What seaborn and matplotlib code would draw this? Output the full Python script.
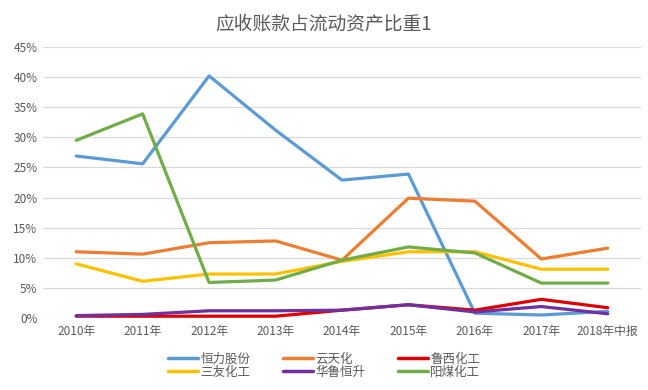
import matplotlib
matplotlib.use("Agg")
import matplotlib.pyplot as plt
import seaborn as sns
import pandas as pd
from matplotlib.ticker import PercentFormatter
from matplotlib.lines import Line2D

years = ["2010年", "2011年", "2012年", "2013年", "2014年", "2015年", "2016年", "2017年", "2018年中报"]
hengli = [26.9, 25.6, 40.2, 31.2, 22.9, 23.9, 0.8, 0.5, 1.1]
yuntianhua = [11.0, 10.6, 12.5, 12.8, 9.6, 19.9, 19.4, 9.8, 11.6]
luxi = [0.3, 0.3, 0.3, 0.3, 1.3, 2.2, 1.3, 3.1, 1.7]
sanyou = [9.0, 6.1, 7.3, 7.3, 9.4, 11.0, 11.0, 8.1, 8.1]
hualu = [0.4, 0.6, 1.2, 1.2, 1.3, 2.2, 1.0, 1.9, 0.7]
yangmei = [29.5, 33.9, 5.9, 6.3, 9.6, 11.8, 10.8, 5.8, 5.8]

series_names = ["恒力股份", "云天化", "鲁西化工", "三友化工", "华鲁恒升", "阳煤化工"]
series_vals = [hengli, yuntianhua, luxi, sanyou, hualu, yangmei]
colors = ["#5B9BD5", "#ED7D31", "#E00000", "#FFC000", "#7030A0", "#70AD47"]

rows = []
for name, vals in zip(series_names, series_vals):
    for i, (y, v) in enumerate(zip(years, vals)):
        rows.append({"x": i, "year": y, "series": name, "value": v})
df = pd.DataFrame(rows)

sns.set_style("white")
plt.rcParams['font.family'] = ['Noto Sans CJK SC', 'DejaVu Sans']

fig = plt.figure(figsize=(6.48, 3.9), dpi=100)
ax = fig.add_axes([43/648, 72/390, 598/648, 271/390])

sns.lineplot(data=df, x="x", y="value", hue="series", hue_order=series_names,
             palette=dict(zip(series_names, colors)), linewidth=2.3, ax=ax,
             legend=False, sort=False)

ax.set_xlim(-0.5, len(years) - 0.5)
ax.set_ylim(0, 45)
ax.set_yticks(range(0, 46, 5))
ax.yaxis.set_major_formatter(PercentFormatter(decimals=0))
ax.set_xticks(range(len(years)))
ax.set_xticklabels(years)
ax.tick_params(axis="both", length=0, labelcolor="#595959", labelsize=8.5)
ax.tick_params(axis="y", pad=4)
ax.tick_params(axis="x", pad=5)
ax.grid(axis="y", color="#D9D9D9", linewidth=0.9)
ax.set_axisbelow(True)
for s in ax.spines.values():
    s.set_visible(False)
ax.set_xlabel("")
ax.set_ylabel("")

fig.text(0.5, 0.938, "应收账款占流动资产比重1", ha="center", va="center",
         fontsize=13.5, color="#595959")

order = [0, 3, 1, 4, 2, 5]
handles = [Line2D([0], [0], color=colors[i], lw=2.5) for i in order]
labels = [series_names[i] for i in order]
fig.legend(handles, labels, ncol=3, loc="center", bbox_to_anchor=(0.5, 0.062),
           frameon=False, fontsize=9, handlelength=2.4, columnspacing=2.6,
           labelspacing=0.0, handletextpad=0.2, labelcolor="#595959",
           borderpad=0.2)

fig.savefig("out.png", dpi=100)
